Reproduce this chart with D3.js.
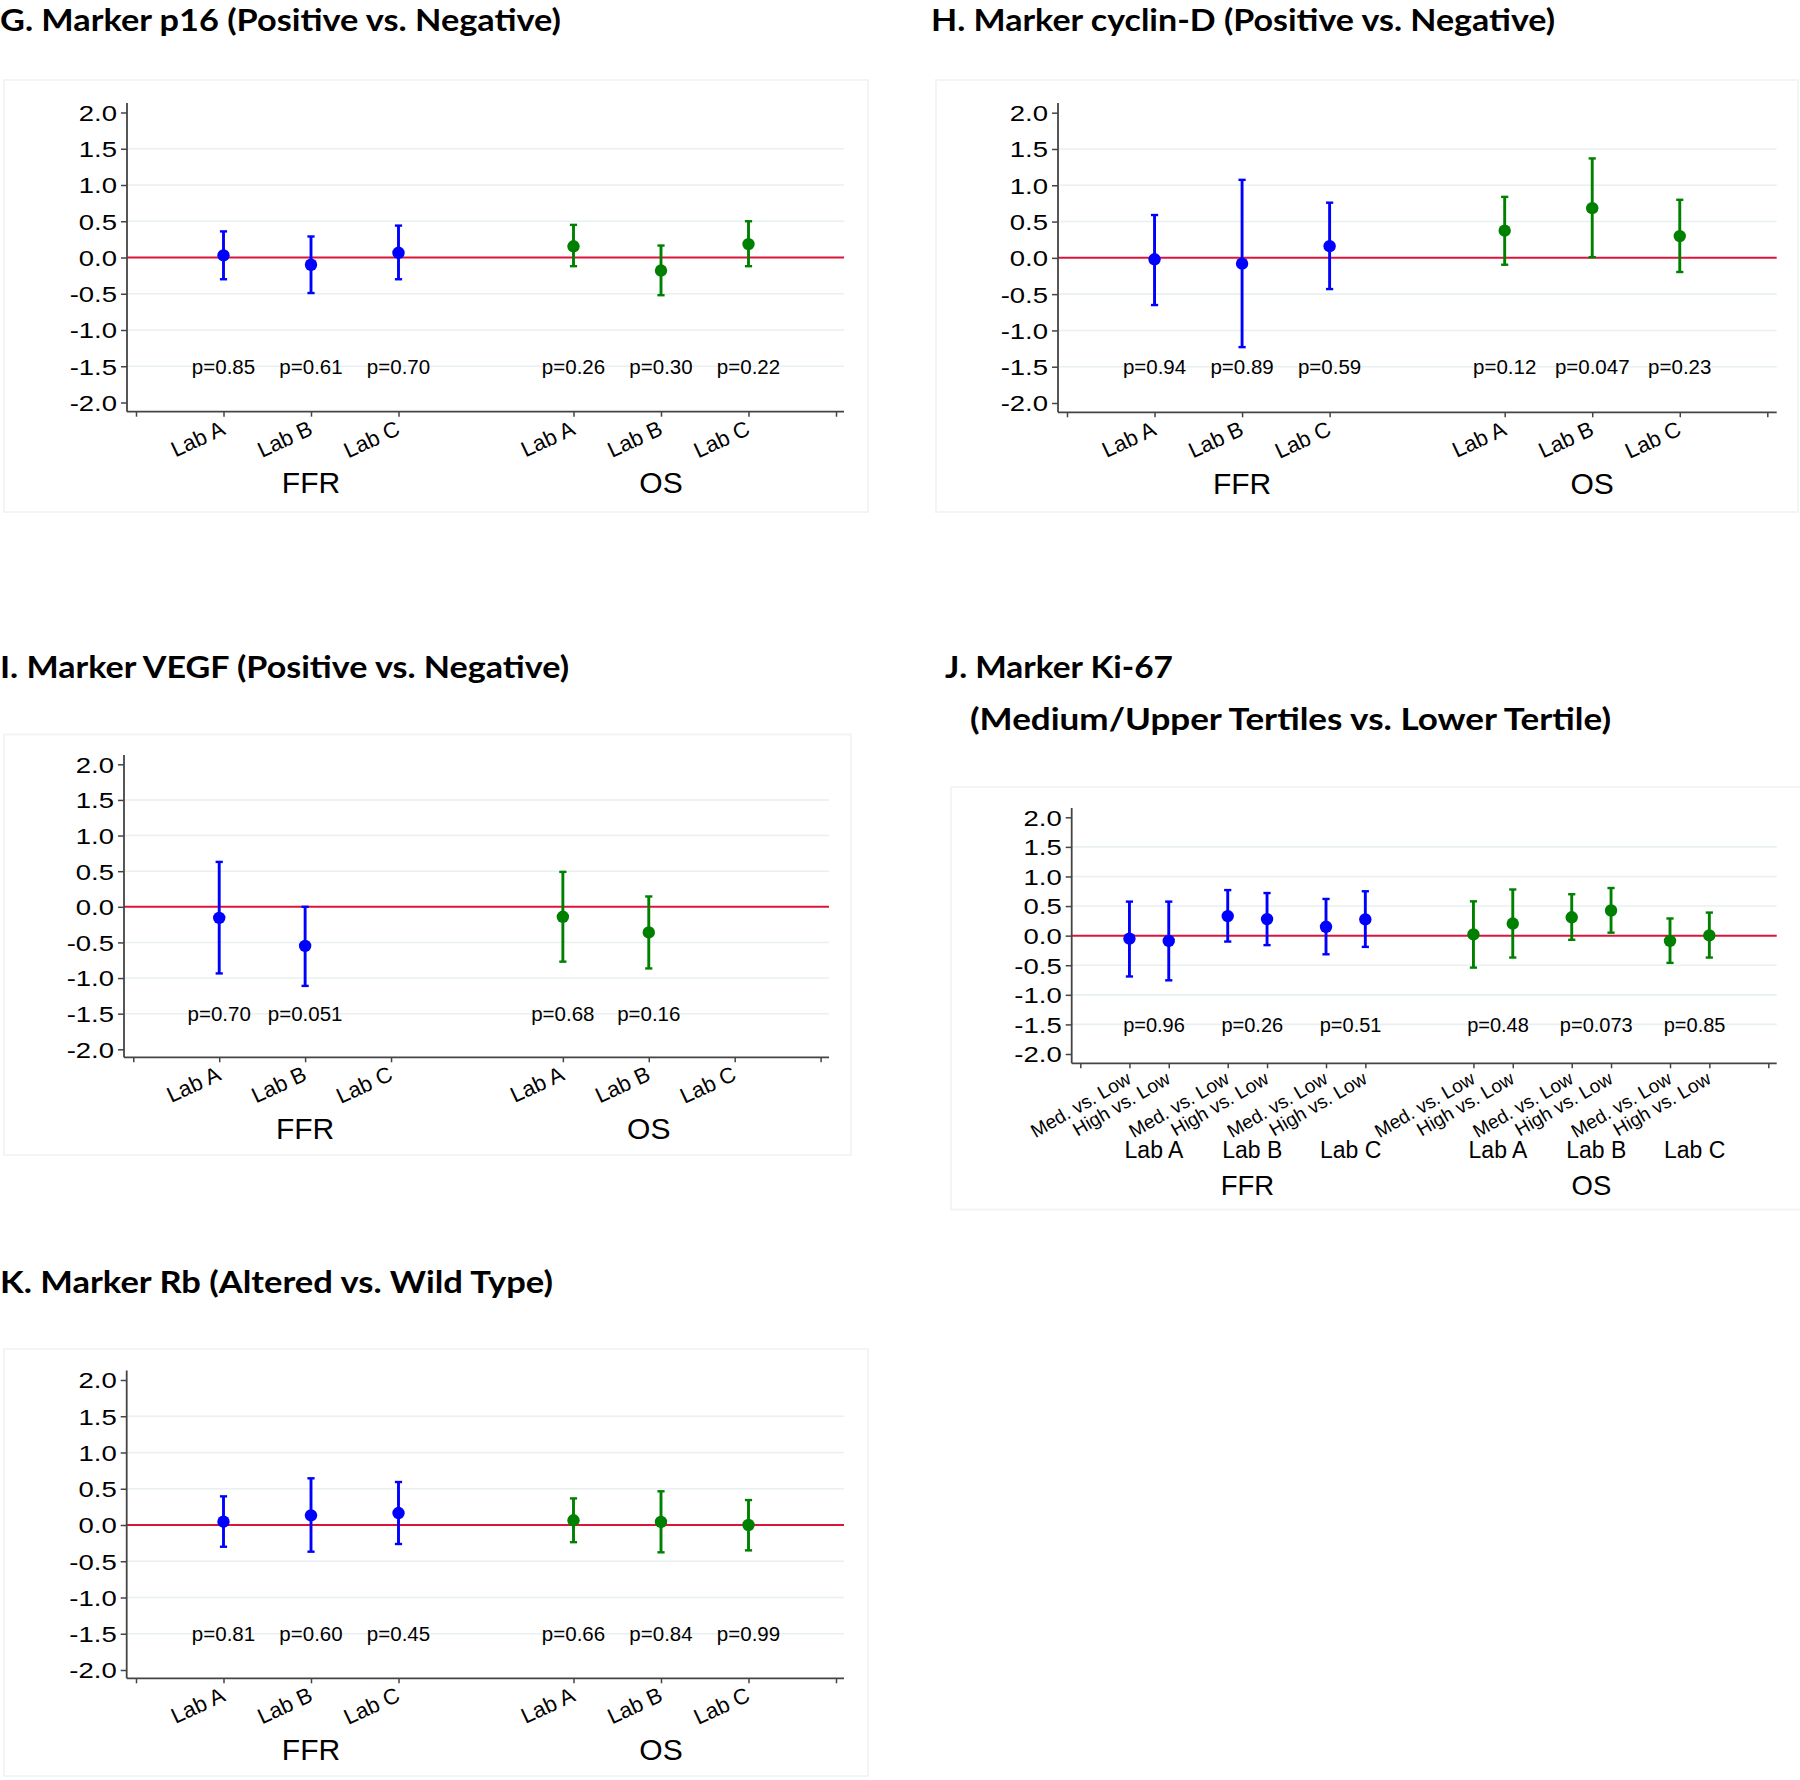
<!DOCTYPE html>
<html>
<head>
<meta charset="utf-8">
<script src="https://cdn.jsdelivr.net/npm/d3@7"></script>
<style>
  body { margin: 0; background: #fff; }
</style>
</head>
<body>
<div id="chart"></div>
<script>
// ---- data ----
const labs = ["Lab A", "Lab B", "Lab C"];
const outcomes = ["FFR", "OS"];
const comparisons = ["Med. vs. Low", "High vs. Low"];
const yTicks = [2.0, 1.5, 1.0, 0.5, 0.0, -0.5, -1.0, -1.5, -2.0];

// order: FFR Lab A, B, C, OS Lab A, B, C
const p16Est = [0.03, -0.10, 0.065, 0.155, -0.18, 0.185];
const p16Lo  = [-0.30, -0.49, -0.30, -0.12, -0.52, -0.12];
const p16Hi  = [0.36, 0.29, 0.44, 0.45, 0.165, 0.50];
const p16P   = ["p=0.85", "p=0.61", "p=0.70", "p=0.26", "p=0.30", "p=0.22"];

const cycEst = [-0.02, -0.08, 0.16, 0.375, 0.685, 0.30];
const cycLo  = [-0.65, -1.23, -0.43, -0.095, 0.01, -0.195];
const cycHi  = [0.59, 1.075, 0.76, 0.84, 1.37, 0.80];
const cycP   = ["p=0.94", "p=0.89", "p=0.59", "p=0.12", "p=0.047", "p=0.23"];

const vegfEst = [-0.155, -0.55, null, -0.14, -0.36, null];
const vegfLo  = [-0.935, -1.11, null, -0.77, -0.865, null];
const vegfHi  = [0.63, 0.0, null, 0.49, 0.145, null];
const vegfP   = ["p=0.70", "p=0.051", "", "p=0.68", "p=0.16", ""];

// order: FFR (Lab A med, high, Lab B med, high, Lab C med, high), then OS
const ki67Est = [-0.05, -0.09, 0.33, 0.28, 0.15, 0.275, 0.02, 0.205, 0.31, 0.425, -0.09, 0.005];
const ki67Lo  = [-0.69, -0.755, -0.10, -0.16, -0.315, -0.19, -0.54, -0.37, -0.07, 0.05, -0.46, -0.37];
const ki67Hi  = [0.575, 0.575, 0.77, 0.72, 0.62, 0.75, 0.58, 0.78, 0.70, 0.805, 0.29, 0.39];
const ki67P   = ["p=0.96", "p=0.26", "p=0.51", "p=0.48", "p=0.073", "p=0.85"];

const rbEst = [0.045, 0.133, 0.165, 0.065, 0.042, 0.0];
const rbLo  = [-0.30, -0.368, -0.262, -0.237, -0.377, -0.35];
const rbHi  = [0.395, 0.644, 0.593, 0.367, 0.465, 0.344];
const rbP   = ["p=0.81", "p=0.60", "p=0.45", "p=0.66", "p=0.84", "p=0.99"];

const colors = { FFR: "#0000ff", OS: "#008000" };

const W = 1800, H = 1780;
const svg = d3.select("#chart").append("svg")
  .attr("width", W).attr("height", H)
  .attr("viewBox", [0, 0, W, H]);

const sans = "'Liberation Sans', Arial, sans-serif";
const titleFont = "Lato, 'Open Sans', sans-serif";

function drawPanel(p) {
  const g = svg.append("g");

  // light frame
  g.append("rect")
    .attr("x", p.frame[0]).attr("y", p.frame[1])
    .attr("width", p.frame[2] - p.frame[0]).attr("height", p.frame[3] - p.frame[1])
    .attr("fill", "none").attr("stroke", "#f1f5f5").attr("stroke-width", 2);

  // title lines
  p.title.forEach(t => {
    g.append("text")
      .attr("x", t.x).attr("y", t.y)
      .attr("font-family", titleFont).attr("font-weight", 700)
      .attr("font-size", 30.5).attr("fill", "#000")
      .attr("textLength", t.w).attr("lengthAdjust", "spacingAndGlyphs")
      .text(t.text);
  });

  const y = d3.scaleLinear().domain([-2, 2]).range([p.yLow, p.yHigh]);
  const x = d3.scaleLinear().domain([0, p.xMax]).range(p.xRange);

  // build items
  let items;
  if (p.paired) {
    items = p.est.map((e, i) => {
      const o = Math.floor(i / 6), lab = Math.floor((i % 6) / 2), c = i % 2;
      return { est: e, lo: p.lo[i], hi: p.hi[i], outcome: outcomes[o],
               pos: 1 + lab * 2 + c * 0.8 + o * 7, label: comparisons[c] };
    });
  } else {
    items = p.est.map((e, i) => {
      const o = Math.floor(i / 3), lab = i % 3;
      return { est: e, lo: p.lo[i], hi: p.hi[i], outcome: outcomes[o],
               pos: 1 + lab + o * 4, label: labs[lab] };
    });
  }

  // gridlines
  g.append("g").selectAll("line")
    .data(yTicks.filter(v => v !== 0 && Math.abs(v) < 2))
    .join("line")
    .attr("x1", p.yAxisX).attr("x2", p.xEnd)
    .attr("y1", d => y(d)).attr("y2", d => y(d))
    .attr("stroke", "#e8f0f1").attr("stroke-width", 1.6);

  // zero reference line
  g.append("line")
    .attr("x1", p.yAxisX).attr("x2", p.xEnd)
    .attr("y1", y(0)).attr("y2", y(0))
    .attr("stroke", "#dc143c").attr("stroke-width", 2);

  // y axis
  const yAxis = g.append("g")
    .attr("transform", `translate(${p.yAxisX},0)`)
    .call(d3.axisLeft(y).tickValues(yTicks).tickFormat(d => d.toFixed(1))
      .tickSize(6).tickPadding(4).tickSizeOuter(0));
  yAxis.select(".domain").remove();
  yAxis.selectAll(".tick line").attr("stroke", "#444").attr("stroke-width", 1.5);
  yAxis.selectAll(".tick text")
    .attr("font-family", sans).attr("font-size", 22).attr("fill", "#000")
    .attr("x", -10 / 1.25).attr("dy", "0.36em")
    .attr("transform", "scale(1.25,1)");
  g.append("line")
    .attr("x1", p.yAxisX).attr("x2", p.yAxisX)
    .attr("y1", p.axisTop).attr("y2", p.axisBottom)
    .attr("stroke", "#444").attr("stroke-width", 1.8);

  // x axis
  const xTicks = [0].concat(items.map(d => d.pos), [p.xMax]);
  const xAxis = g.append("g")
    .attr("transform", `translate(0,${p.axisBottom})`)
    .call(d3.axisBottom(x).tickValues(xTicks).tickFormat("").tickSize(5).tickSizeOuter(0));
  xAxis.select(".domain").remove();
  xAxis.selectAll(".tick line").attr("stroke", "#444").attr("stroke-width", 1.5);
  g.append("line")
    .attr("x1", p.yAxisX).attr("x2", p.xEnd)
    .attr("y1", p.axisBottom).attr("y2", p.axisBottom)
    .attr("stroke", "#444").attr("stroke-width", 1.8);

  // rotated tick labels
  const rot = p.paired ? 30 : 25;
  g.append("g").selectAll("text")
    .data(items)
    .join("text")
    .attr("transform", d => `translate(${x(d.pos) + 3},${p.axisBottom + (p.paired ? 19 : 22)}) rotate(${-rot})`)
    .attr("text-anchor", "end")
    .attr("font-family", sans).attr("font-size", p.paired ? 19 : 22)
    .attr("fill", "#000")
    .text(d => d.label);

  // p-values and group labels
  let pPos, outPos;
  if (p.paired) {
    pPos = p.pvals.map((_, i) => 1.5 + (i % 3) * 2 + Math.floor(i / 3) * 7);
    outPos = outcomes.map((_, o) => 3.4 + o * 7);
    g.append("g").selectAll("text")
      .data(pPos)
      .join("text")
      .attr("x", d => x(d)).attr("y", p.axisBottom + 95)
      .attr("text-anchor", "middle")
      .attr("font-family", sans).attr("font-size", 23).attr("fill", "#000")
      .text((d, i) => labs[i % 3]);
  } else {
    pPos = p.pvals.map((_, i) => 1 + (i % 3) + Math.floor(i / 3) * 4);
    outPos = outcomes.map((_, o) => 2 + o * 4);
  }

  g.append("g").selectAll("text")
    .data(p.pvals)
    .join("text")
    .attr("x", (d, i) => x(pPos[i])).attr("y", y(-1.5) + 7.5)
    .attr("text-anchor", "middle")
    .attr("font-family", sans).attr("font-size", p.paired ? 20 : 20.5).attr("fill", "#000")
    .text(d => d);

  g.append("g").selectAll("text")
    .data(outcomes)
    .join("text")
    .attr("x", (d, i) => x(outPos[i]))
    .attr("y", p.axisBottom + (p.paired ? 132 : 81.5))
    .attr("text-anchor", "middle")
    .attr("font-family", sans).attr("font-size", p.paired ? 27.5 : 30).attr("fill", "#000")
    .text(d => d);

  // estimates with confidence intervals
  const marks = g.append("g").selectAll("g")
    .data(items.filter(d => d.est !== null))
    .join("g")
    .attr("stroke", d => colors[d.outcome])
    .attr("fill", d => colors[d.outcome]);

  marks.append("line")
    .attr("x1", d => x(d.pos)).attr("x2", d => x(d.pos))
    .attr("y1", d => y(d.lo)).attr("y2", d => y(d.hi))
    .attr("stroke-width", 2.9);
  marks.append("line")
    .attr("x1", d => x(d.pos) - 3.6).attr("x2", d => x(d.pos) + 3.6)
    .attr("y1", d => y(d.hi)).attr("y2", d => y(d.hi))
    .attr("stroke-width", 2.4);
  marks.append("line")
    .attr("x1", d => x(d.pos) - 3.6).attr("x2", d => x(d.pos) + 3.6)
    .attr("y1", d => y(d.lo)).attr("y2", d => y(d.lo))
    .attr("stroke-width", 2.4);
  marks.append("circle")
    .attr("cx", d => x(d.pos)).attr("cy", d => y(d.est))
    .attr("r", 6.2).attr("stroke", "none");
}

// ---- panels (layout) ----
drawPanel({
  title: [{ text: "G. Marker p16 (Positive vs. Negative)", x: 0, y: 30.5, w: 561 }],
  frame: [4, 80, 868, 512],
  yAxisX: 127, axisTop: 103, axisBottom: 411.7, yHigh: 112.5, yLow: 402.5,
  xMax: 8, xRange: [136, 836], xEnd: 844,
  est: p16Est, lo: p16Lo, hi: p16Hi, pvals: p16P
});

drawPanel({
  title: [{ text: "H. Marker cyclin-D (Positive vs. Negative)", x: 931, y: 30.5, w: 624 }],
  frame: [936, 80, 1798, 512],
  yAxisX: 1058, axisTop: 103, axisBottom: 412.3, yHigh: 112.7, yLow: 403,
  xMax: 8, xRange: [1067, 1767.3], xEnd: 1776.7,
  est: cycEst, lo: cycLo, hi: cycHi, pvals: cycP
});

drawPanel({
  title: [{ text: "I. Marker VEGF (Positive vs. Negative)", x: 0, y: 678, w: 569 }],
  frame: [4, 734.5, 851, 1155],
  yAxisX: 124, axisTop: 755, axisBottom: 1057.3, yHigh: 764.3, yLow: 1049.3,
  xMax: 8, xRange: [133.3, 820.6], xEnd: 829,
  est: vegfEst, lo: vegfLo, hi: vegfHi, pvals: vegfP
});

drawPanel({
  title: [
    { text: "J. Marker Ki-67", x: 945, y: 678, w: 228 },
    { text: "(Medium/Upper Tertiles vs. Lower Tertile)", x: 970, y: 730, w: 641 }
  ],
  frame: [951, 787, 1802, 1209.5],
  yAxisX: 1071.7, axisTop: 808, axisBottom: 1063.3, yHigh: 817.3, yLow: 1054,
  xMax: 14, xRange: [1080.3, 1768.3], xEnd: 1776.7, paired: true,
  est: ki67Est, lo: ki67Lo, hi: ki67Hi, pvals: ki67P
});

drawPanel({
  title: [{ text: "K. Marker Rb (Altered vs. Wild Type)", x: 0, y: 1293, w: 553 }],
  frame: [4, 1349, 868, 1776],
  yAxisX: 126.7, axisTop: 1370.5, axisBottom: 1678.3, yHigh: 1380, yLow: 1670,
  xMax: 8, xRange: [136, 836], xEnd: 844,
  est: rbEst, lo: rbLo, hi: rbHi, pvals: rbP
});
</script>
</body>
</html>
